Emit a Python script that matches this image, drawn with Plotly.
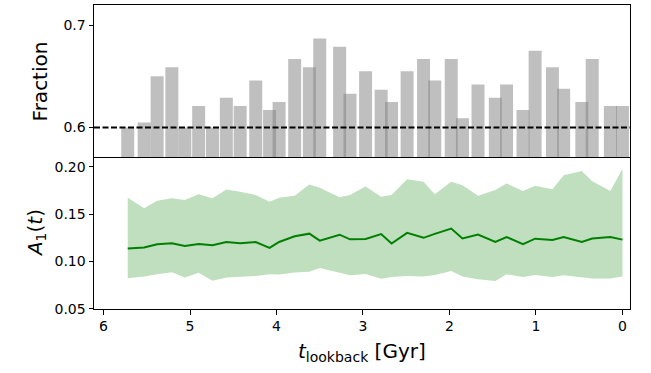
import plotly.graph_objects as go

# Lookback times of the snapshots (Gyr)
t_lookback = [5.72, 5.53, 5.38, 5.21, 5.06, 4.90, 4.74, 4.58, 4.42, 4.24,
              4.08, 3.97, 3.79, 3.62, 3.50, 3.27, 3.15, 2.97, 2.79, 2.67,
              2.49, 2.30, 2.17, 1.98, 1.85, 1.67, 1.47, 1.34, 1.15, 1.01,
              0.81, 0.68, 0.47, 0.35, 0.14, 0.00]

# Fraction per snapshot (top panel)
fraction = [0.600, 0.605, 0.650, 0.659, 0.600, 0.621, 0.600, 0.629, 0.621, 0.646,
            0.617, 0.625, 0.667, 0.659, 0.687, 0.679, 0.633, 0.655, 0.637, 0.625,
            0.655, 0.667, 0.646, 0.667, 0.609, 0.642, 0.629, 0.642, 0.617, 0.675,
            0.659, 0.638, 0.625, 0.667, 0.621, 0.621]
fraction_ref = 0.6

# A1(t): median and spread (bottom panel)
a1_median = [0.1136, 0.1147, 0.1182, 0.1192, 0.1164, 0.1185, 0.1171, 0.1206, 0.1192, 0.1206,
             0.1143, 0.1206, 0.1266, 0.1294, 0.1220, 0.1283, 0.1234, 0.1238, 0.1290, 0.1189,
             0.1302, 0.1250, 0.1292, 0.1348, 0.1244, 0.1285, 0.1206, 0.1259, 0.1184, 0.1241,
             0.1227, 0.1259, 0.1206, 0.1242, 0.1259, 0.1231]
a1_upper = [0.1674, 0.1563, 0.1643, 0.1668, 0.1650, 0.1710, 0.1668, 0.1762, 0.1737, 0.1702,
            0.1632, 0.1674, 0.1695, 0.1814, 0.1779, 0.1678, 0.1702, 0.1793, 0.1685, 0.1702,
            0.1870, 0.1842, 0.1710, 0.1842, 0.1807, 0.1695, 0.1755, 0.1825, 0.1744, 0.1800,
            0.1765, 0.1912, 0.1957, 0.1849, 0.1744, 0.1982]
a1_lower = [0.0822, 0.0840, 0.0864, 0.0885, 0.0829, 0.0881, 0.0796, 0.0829, 0.0838, 0.0846,
            0.0865, 0.0862, 0.0883, 0.0890, 0.0932, 0.0876, 0.0853, 0.0867, 0.0818, 0.0835,
            0.0846, 0.0840, 0.0857, 0.0899, 0.0840, 0.0811, 0.0794, 0.0864, 0.0835, 0.0857,
            0.0835, 0.0855, 0.0829, 0.0820, 0.0820, 0.0840]

y_ticks_top = [0.6, 0.7]
y_ticks_bottom = [0.05, 0.10, 0.15, 0.20]
x_ticks = [6, 5, 4, 3, 2, 1, 0]

FONT = "DejaVu Sans"
tick_font = dict(family=FONT, size=14, color="black")
label_font = dict(family=FONT, size=20, color="black")

fig = go.Figure()

# Top panel: bars
fig.add_trace(go.Bar(
    x=t_lookback, y=fraction, width=0.15,
    marker=dict(color="rgba(128,128,128,0.5)", line=dict(width=0)),
    xaxis="x2", yaxis="y2", showlegend=False,
))

# Bottom panel: shaded spread and median line
fig.add_trace(go.Scatter(
    x=t_lookback, y=a1_lower, mode="lines", line=dict(width=0, color="rgba(0,128,0,0)"),
    xaxis="x", yaxis="y", showlegend=False, hoverinfo="skip",
))
fig.add_trace(go.Scatter(
    x=t_lookback, y=a1_upper, mode="lines", line=dict(width=0, color="rgba(0,128,0,0)"),
    fill="tonexty", fillcolor="rgba(0,128,0,0.25)",
    xaxis="x", yaxis="y", showlegend=False, hoverinfo="skip",
))
fig.add_trace(go.Scatter(
    x=t_lookback, y=a1_median, mode="lines", line=dict(width=2, color="green"),
    xaxis="x", yaxis="y", showlegend=False,
))

# Reference level in the top panel
fig.add_shape(type="line", xref="x2 domain", yref="y2",
              x0=0, x1=1, y0=fraction_ref, y1=fraction_ref,
              line=dict(color="black", width=2, dash="6px,2.5px"))

x_range = [6.11, -0.087]
base = dict(showline=True, linecolor="black", linewidth=1,
            showgrid=False, zeroline=False)
tick_style = dict(ticks="outside", ticklen=4.5, tickwidth=1, tickcolor="black",
                  tickfont=tick_font)

fig.update_layout(
    width=651, height=373,
    margin=dict(l=94, r=21, t=5, b=64),
    paper_bgcolor="white", plot_bgcolor="white",
    barmode="overlay",
    xaxis=dict(domain=[0, 1], range=x_range, anchor="y", mirror=False,
               tickvals=x_ticks, ticktext=[str(v) for v in x_ticks],
               **base, **tick_style),
    yaxis=dict(domain=[0, 0.5], range=[0.0497, 0.2105], anchor="x", mirror=True,
               tickvals=y_ticks_bottom, ticktext=[f"{v:.2f}" for v in y_ticks_bottom],
               **base, **tick_style),
    xaxis2=dict(domain=[0, 1], range=x_range, anchor="y2", matches="x", mirror=True,
                showticklabels=False, ticks="", **base),
    yaxis2=dict(domain=[0.5, 1], range=[0.5712, 0.7197], anchor="x2", mirror=True,
                tickvals=y_ticks_top, ticktext=[f"{v:.1f}" for v in y_ticks_top],
                **base, **tick_style),
)

# Axis titles
fig.add_annotation(text="Fraction", xref="paper", yref="paper", x=-0.1, y=0.75,
                   textangle=-90, showarrow=False, xanchor="center", yanchor="middle",
                   font=label_font)
fig.add_annotation(text="<i>A</i><sub>1</sub>(<i>t</i>)", xref="paper", yref="paper",
                   x=-0.108, y=0.25, textangle=-90, showarrow=False,
                   xanchor="center", yanchor="middle", font=label_font)
fig.add_annotation(text="<i>t</i><sub>lookback</sub> [Gyr]", xref="paper", yref="paper",
                   x=0.5, y=-0.142, showarrow=False, xanchor="center", yanchor="middle",
                   font=label_font)

fig.write_html("out.html")
